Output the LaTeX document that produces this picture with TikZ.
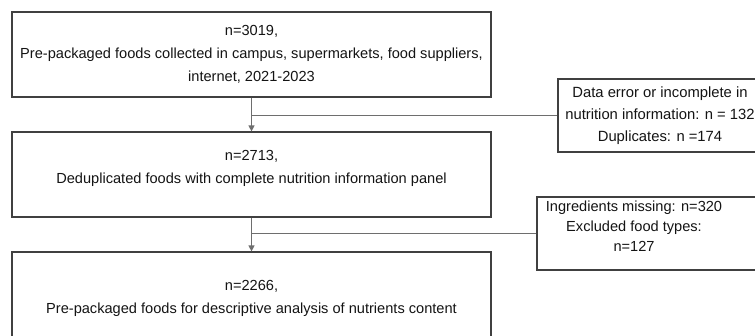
\documentclass[tikz,border=0pt]{standalone}
\usepackage{fontspec}
\setmainfont{Liberation Sans}
\usetikzlibrary{arrows.meta}
\definecolor{boxline}{RGB}{64,64,64}
\definecolor{connline}{RGB}{110,110,110}
\definecolor{txt}{RGB}{20,20,20}
\newcommand{\downpad}[1]{\rule[-#1]{0pt}{#1}}
\begin{document}
\begin{tikzpicture}[x=0.75pt,y=-0.75pt,
  box/.style={draw=boxline, line width=0.9pt, rectangle, align=center, inner sep=0pt, text=txt,
    font=\fontsize{10.95}{17.25}\selectfont},
  conn/.style={draw=connline, line width=0.9pt},
  arr/.style={conn, -{Triangle[length=4.5pt,width=4.5pt]}}]
\useasboundingbox (0,0) rectangle (755,335);
\clip (0,0) rectangle (755,335);
\fill[white] (0,0) rectangle (755,335);
\node[box, minimum width=359.25pt, minimum height=63.75pt] (b1) at (251.5,54.5)
  {n=3019,\\Pre-packaged foods collected in campus, supermarkets, food suppliers,\\internet, 2021-2023};
\node[box, minimum width=359.25pt, minimum height=63.75pt] (b2) at (251.5,174.5)
  {n=2713,\\Deduplicated foods with complete nutrition information panel\downpad{11.5pt}};
\node[box, minimum width=359.25pt, minimum height=69.75pt] (b3) at (251.5,298.5)
  {n=2266,\\Pre-packaged foods for descriptive analysis of nutrients content};
\node[box, minimum width=153pt, minimum height=54.75pt, font=\fontsize{11.1}{16.5}\selectfont] (r1) at (660,115.5)
  {Data error or incomplete in\\nutrition information: n = 132\\Duplicates: n =174};
\node[box, minimum width=171pt, minimum height=54.75pt, font=\fontsize{10.95}{15}\selectfont] (r2) at (651,233.5)
  {\begin{tabular}{@{}c@{}}Ingredients missing: n=320\\Excluded food types:\\n=127\downpad{13pt}\end{tabular}\hspace{25.5pt}};
\draw[arr] (b1.south) -- (b2.north);
\draw[conn] (r1.west) -- (r1.west -| b1.south);
\draw[arr] (b2.south) -- (b3.north);
\draw[conn] (r2.west) -- (r2.west -| b2.south);
\end{tikzpicture}
\end{document}
